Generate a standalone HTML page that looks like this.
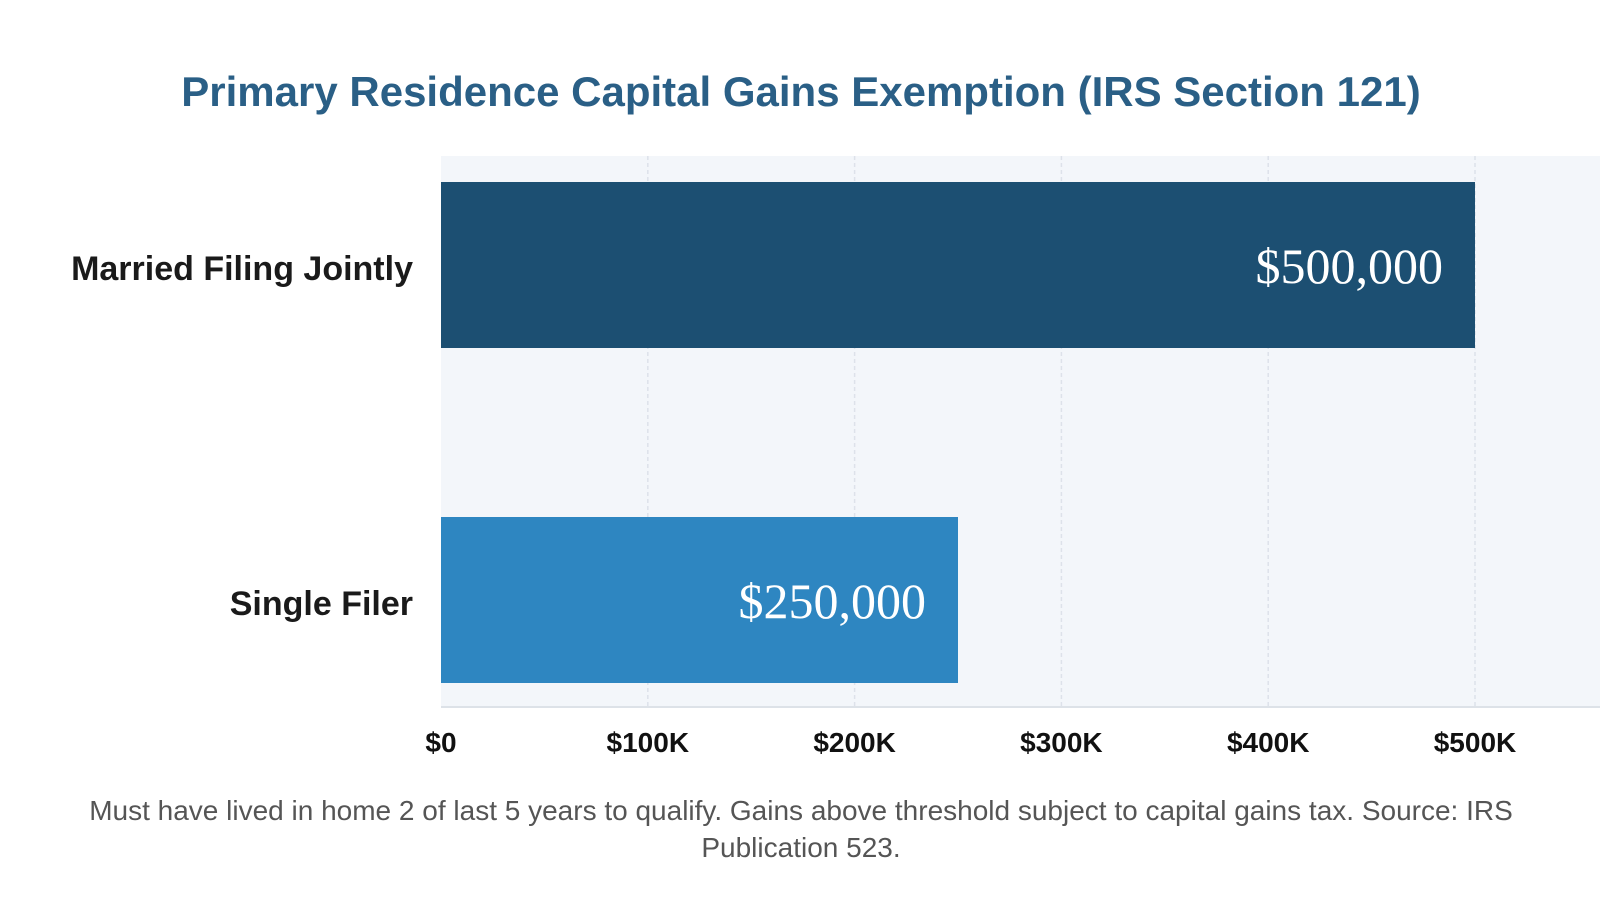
<!DOCTYPE html>
<html><head><meta charset="utf-8"><style>
body{margin:0;width:1600px;height:900px;background:#fff;overflow:hidden;font-family:"Liberation Sans",sans-serif}
</style></head><body>
<svg width="1600" height="900">
<text x="801" y="106" text-anchor="middle" font-size="42" font-weight="bold" fill="#2a5f86">Primary Residence Capital Gains Exemption (IRS Section 121)</text>
<rect x="441" y="156" width="1159" height="551" fill="#f3f6fa"/>
<g id="grid"></g>
<line x1="441" y1="707" x2="1600" y2="707" stroke="#dde2e8" stroke-width="2"/>
<g id="bars"></g>
<g id="ticks"></g>
<text x="801" y="820" text-anchor="middle" font-size="28" fill="#555">Must have lived in home 2 of last 5 years to qualify. Gains above threshold subject to capital gains tax. Source: IRS</text>
<text x="801" y="857" text-anchor="middle" font-size="28" fill="#555">Publication 523.</text>
</svg>
<script>
const categories=["Married Filing Jointly","Single Filer"];
const values=[500000,250000];
const valueLabels=["$500,000","$250,000"];
const tickValues=[0,100000,200000,300000,400000,500000];
const tickLabels=["$0","$100K","$200K","$300K","$400K","$500K"];
const colors=["#1c4f72","#2e86c1"];
const NS="http://www.w3.org/2000/svg";
const x=v=>441+v*(1475-441)/500000;
const bandY=[182,517],bandH=166;
function mk(t,a,p){const e=document.createElementNS(NS,t);for(const k in a)e.setAttribute(k,a[k]);p.appendChild(e);return e;}
const grid=document.getElementById('grid'),bars=document.getElementById('bars'),ticks=document.getElementById('ticks');
tickValues.forEach((v,i)=>{
 if(v>0){const l=mk('line',{x1:x(v),x2:x(v),y1:156,y2:707,stroke:'#dde2ea','stroke-width':1.5,'stroke-dasharray':'4,3'},grid);
 
 }
 const t=mk('text',{x:x(v),y:752,'text-anchor':'middle','font-size':28,'font-weight':'bold',fill:'#111'},ticks);
 t.textContent=tickLabels[i];
 
 
});
values.forEach((v,i)=>{
 const r=mk('rect',{x:441,y:bandY[i],width:x(v)-441,height:bandH,fill:colors[i]},bars);
 
 
 const t=mk('text',{x:x(v)-32,y:bandY[i]+bandH/2+18,'text-anchor':'end','font-size':50,fill:'#fff','font-family':'Liberation Serif, serif'},bars);
 t.textContent=valueLabels[i];
 
 
 const c=mk('text',{x:413,y:bandY[i]+bandH/2+15,'text-anchor':'end','font-size':34,'font-weight':'bold',fill:'#1a1a1a'},bars);
 c.textContent=categories[i];
 
 
});
</script>
</body></html>
